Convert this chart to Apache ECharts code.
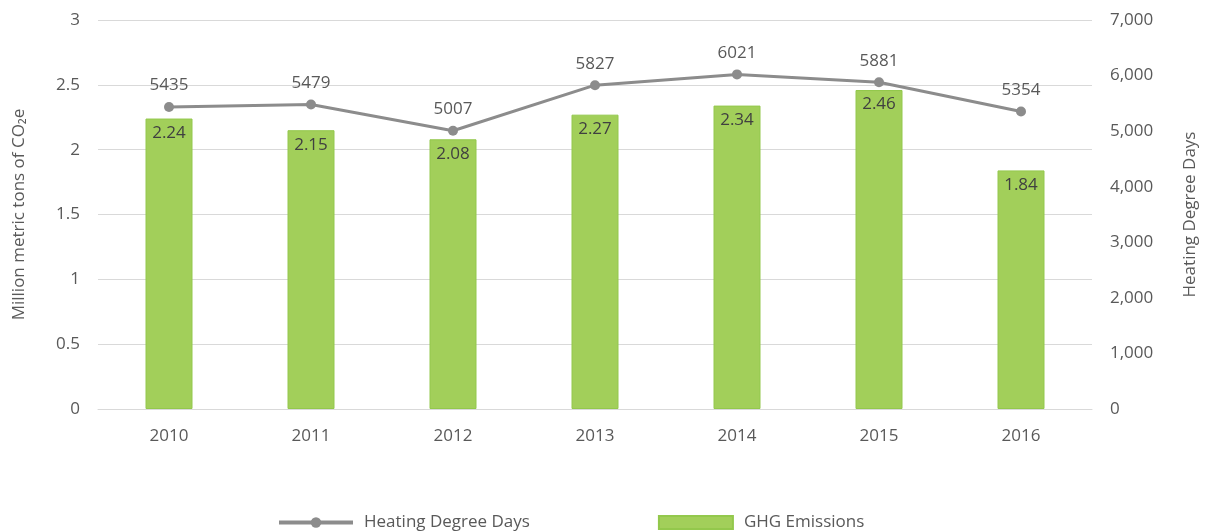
<!DOCTYPE html>
<html>
<head>
<meta charset="utf-8">
<script src="https://cdn.jsdelivr.net/npm/echarts@6/dist/echarts.min.js"></script>
<style>
  html, body { margin: 0; padding: 0; background: #fff; }
  #main { width: 1207px; height: 531px; }
</style>
</head>
<body>
<div id="main"></div>
<script>
// data
const years = ['2010', '2011', '2012', '2013', '2014', '2015', '2016'];
const ghgEmissions = [2.24, 2.15, 2.08, 2.27, 2.34, 2.46, 1.84];
const heatingDegreeDays = [5435, 5479, 5007, 5827, 6021, 5881, 5354];

const font = '"Open Sans", sans-serif';
const textGrey = '#595959';

const myChart = echarts.init(document.getElementById('main'));
myChart.setOption({
  animation: false,
  textStyle: { fontFamily: font },
  grid: { left: 98, right: 110, top: 20, bottom: 122 },
  legend: {
    left: 272,
    top: 509,
    itemWidth: 74,
    itemHeight: 13,
    itemGap: 128,
    textStyle: { color: textGrey, fontSize: 17, fontFamily: font, padding: [0, 0, 0, 6] },
    data: [
      { name: 'Heating Degree Days', lineStyle: { width: 4 } },
      { name: 'GHG Emissions', icon: 'rect' }
    ]
  },
  xAxis: {
    type: 'category',
    data: years,
    axisLine: { lineStyle: { color: '#d9d9d9' } },
    axisTick: { alignWithLabel: true, length: 5, lineStyle: { color: '#d9d9d9' } },
    axisLabel: { color: textGrey, fontSize: 17, margin: 19 }
  },
  yAxis: [
    {
      type: 'value',
      min: 0, max: 3, interval: 0.5,
      name: 'Million metric tons of CO₂e',
      nameLocation: 'middle',
      nameGap: 70,
      nameTextStyle: { color: textGrey, fontSize: 17 },
      axisLabel: { color: textGrey, fontSize: 17, margin: 18 },
      splitLine: { lineStyle: { color: '#d9d9d9' } }
    },
    {
      type: 'value',
      min: 0, max: 7000, interval: 1000,
      name: 'Heating Degree Days',
      nameLocation: 'middle',
      nameGap: 90,
      nameRotate: 90,
      nameTextStyle: { color: textGrey, fontSize: 17 },
      axisLabel: {
        color: textGrey, fontSize: 17, margin: 18,
        formatter: v => v.toLocaleString('en-US')
      },
      splitLine: { show: false }
    }
  ],
  series: [
    {
      name: 'GHG Emissions',
      type: 'bar',
      data: ghgEmissions,
      barWidth: 47,
      itemStyle: { color: '#a2cf5a', borderColor: '#93c84c', borderWidth: 1 },
      label: {
        show: true, position: 'insideTop', distance: 6,
        color: '#404040', fontSize: 17
      }
    },
    {
      name: 'Heating Degree Days',
      type: 'line',
      yAxisIndex: 1,
      data: heatingDegreeDays,
      symbol: 'circle',
      symbolSize: 10,
      lineStyle: { color: '#8c8c8c', width: 3 },
      itemStyle: { color: '#8c8c8c' },
      label: {
        show: true, position: 'top', distance: 8,
        color: textGrey, fontSize: 17
      }
    }
  ]
});
</script>
</body>
</html>
